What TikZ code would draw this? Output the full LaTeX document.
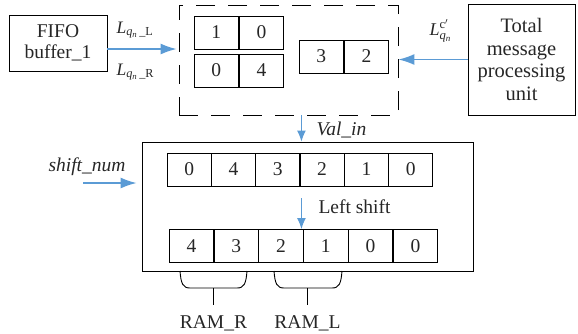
\documentclass[tikz,border=0pt]{standalone}
\usepackage{amsmath}
\usepackage{fontspec}
\setmainfont{Liberation Serif}
\usetikzlibrary{calc}
\usetikzlibrary{positioning}
\usetikzlibrary{arrows.meta}
\definecolor{arrowblue}{HTML}{5B9BD5}
\definecolor{textgray}{HTML}{262626}

\begin{document}
\begin{tikzpicture}[x=1pt, y=-1pt, font=\fontsize{19.5}{21.5}\selectfont, text=textgray,
    cell/.style={rectangle, draw=black, line width=0.9pt, inner sep=0pt, minimum width=44.4pt, minimum height=33pt},
    unit/.style={rectangle, draw=black, line width=0.9pt, align=center, inner sep=0pt},
    bigarrow/.style={draw=arrowblue, line width=1.4pt, -{Latex[length=16pt, width=11pt]}},
    smallarrow/.style={draw=arrowblue, line width=1.2pt, -{Latex[length=11pt, width=9pt]}}]
    \useasboundingbox (0,0) rectangle (578,333);

    % units outside
    \node[unit, minimum width=98pt, minimum height=56pt] (fifo) at (58,43) {FIFO\\buffer\_1};
    \node[unit, minimum width=107pt, minimum height=111pt, font=\fontsize{20.5}{22.5}\selectfont] (total) at (521.5,59.5) {Total\\message\\processing\\unit};

    % dashed input register
    \node[draw=black, line width=0.9pt, dash pattern=on 19pt off 13pt, minimum width=219pt, minimum height=110pt, inner sep=0pt] (valreg) at (288.5,60) {};
    \node[cell] (inA) at (216.2,32.5) {1};
    \node[cell, right=0pt of inA] (inB) {0};
    \node[cell] (inC) at (216.2,70.5) {0};
    \node[cell, right=0pt of inC] (inD) {4};
    \node[cell] (inE) at (321.2,56.5) {3};
    \node[cell, right=0pt of inE] (inF) {2};

    % shift unit
    \node[unit, minimum width=331pt, minimum height=129pt] (shifter) at (307.5,206.5) {};
    \coordinate (A) at (189.2,169.5);
    \foreach \x[count=\i from 1] in {0,4,3,2,1,0}
    {
        \node[cell] (top\i) at (A) {\x};
        \coordinate (A) at ($(A) + (44.3, 0)$);
    }
    \coordinate (B) at (191.4,246);
    \foreach \x[count=\i from 1] in {4,3,2,1,0,0}
    {
        \node[cell] (bot\i) at (B) {\x};
        \coordinate (B) at ($(B) + (44.8, 0)$);
    }

    % arrows and labels
    \coordinate (fifoout) at ([yshift=-6pt]fifo.east);
    \draw[bigarrow] (fifoout) -- ([xshift=-2pt]valreg.west |- fifoout);
    \node[anchor=base west, font=\fontsize{17.5}{19}\selectfont] at (113,33) {$\mathit{L}_{\mathit{q}_{\mathit{n}}\,\text{\_L}}$};
    \node[anchor=base west, font=\fontsize{17.5}{19}\selectfont] at (113,75) {$\mathit{L}_{\mathit{q}_{\mathit{n}}\,\text{\_R}}$};
    \draw[bigarrow] (total.west) -- (valreg.east |- total.west);
    \node[anchor=base west, font=\fontsize{18}{20}\selectfont] at (426,35) {$\mathit{L}^{\mathrm{c}'}_{\mathit{q}_{\mathit{n}}}$};
    \draw[smallarrow] ([xshift=2pt]valreg.south -| top4.west) -- ([xshift=2pt]shifter.north -| top4.west);
    \node[anchor=base west] at (313,135) {\textit{Val\_in}};
    \coordinate (shiftin) at (83,183);
    \draw[bigarrow] (shiftin) -- ([xshift=-5pt]shifter.west |- shiftin);
    \node[anchor=base west] at (45,171) {\textit{shift\_num}};
    \draw[smallarrow] ([xshift=2pt, yshift=-12pt]top4.south west) -- ([xshift=2pt]top4.west |- bot4.north);
    \node[anchor=base west] at (315,213) {Left shift};

    % RAM braces
    \draw[line width=0.9pt] (180,271) .. controls (181,284) and (183,288) .. (190,288) -- (237,288) .. controls (244,288) and (246,284) .. (247,271);
    \draw[line width=0.9pt] (274,271) .. controls (275,284) and (277,288) .. (284,288) -- (332,288) .. controls (339,288) and (341,284) .. (342,271);
    \node[anchor=base] (ramr) at (213.5,328) {RAM\_R};
    \node[anchor=base] (raml) at (307.5,328) {RAM\_L};
    \coordinate (ramrtop) at (213.5,288);
    \coordinate (ramltop) at (307.5,288);
    \draw[line width=0.9pt] (ramrtop) -- (ramrtop |- 0,305);
    \draw[line width=0.9pt] (ramltop) -- (ramltop |- 0,305);
\end{tikzpicture}
\end{document}
